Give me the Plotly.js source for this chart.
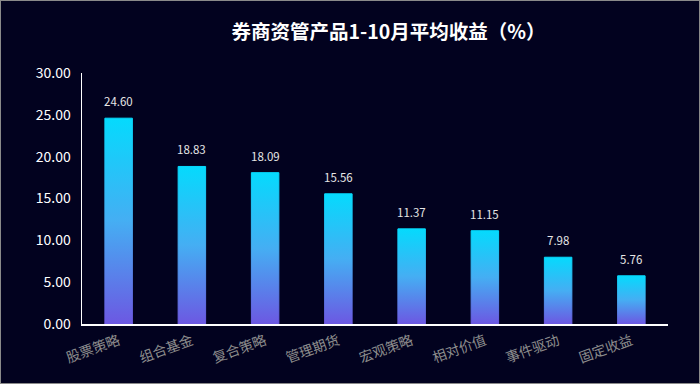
<!DOCTYPE html>
<html>
<head>
<meta charset="utf-8">
<script src="https://cdn.plot.ly/plotly-3.0.1.min.js"></script>
<style>
  html,body{margin:0;padding:0;background:#02021f;}
  #wrap{position:relative;width:700px;height:384px;}
  #chart{width:700px;height:384px;}
  #frame{position:absolute;left:0;top:0;width:698px;height:382px;border:1px solid #8a8a8a;pointer-events:none;}
</style>
</head>
<body>
<div id="wrap"><div id="chart"></div><div id="frame"></div></div>
<script>
const categories = ["股票策略","组合基金","复合策略","管理期货","宏观策略","相对价值","事件驱动","固定收益"];
const values = [24.60, 18.83, 18.09, 15.56, 11.37, 11.15, 7.98, 5.76];
const titleText = "券商资管产品1-10月平均收益（%）";

const FONT = '"Noto Sans CJK SC", "Noto Sans", sans-serif';

const trace = {
  type: 'bar',
  x: categories,
  y: values,
  width: 0.375,
  marker: {color: '#3fb0f2', line: {width: 0}},
  hoverinfo: 'none'
};

const annotations = categories.map((c, i) => ({
  x: c, y: values[i], xref: 'x', yref: 'y',
  text: values[i].toFixed(2),
  showarrow: false, yanchor: 'bottom', yshift: 7,
  font: {family: FONT, size: 11.5, color: '#e6e6e6'}
}));

const layout = {
  width: 700, height: 384,
  paper_bgcolor: '#02021f', plot_bgcolor: '#02021f',
  margin: {l: 82, r: 32, t: 73, b: 60},
  title: {text: '<b>' + titleText + '</b>', x: 0.555, xanchor: 'center', y: 0.915, yanchor: 'middle',
          font: {family: FONT, size: 19.5, color: '#ffffff'}},
  xaxis: {
    showgrid: false, zeroline: false, showline: true, linecolor: '#ffffff', linewidth: 1.5,
    tickangle: -20, ticks: 'outside', ticklen: 2, tickcolor: 'rgba(0,0,0,0)',
    tickfont: {family: FONT, size: 14, color: '#8c8c8c'},
    fixedrange: true
  },
  yaxis: {
    range: [0, 30], dtick: 5, tickformat: '.2f',
    showgrid: false, zeroline: false, showline: true, linecolor: '#ffffff', linewidth: 1.5,
    ticks: 'outside', ticklen: 7, tickcolor: 'rgba(0,0,0,0)',
    tickfont: {family: FONT, size: 14, color: '#ffffff'},
    fixedrange: true
  },
  annotations: annotations,
  showlegend: false,
  bargap: 0.6
};

Plotly.newPlot('chart', [trace], layout, {displayModeBar: false, staticPlot: true}).then(() => {
  const svg = document.querySelector('#chart .main-svg');
  const ns = 'http://www.w3.org/2000/svg';
  let defs = svg.querySelector('defs');
  if (!defs) { defs = document.createElementNS(ns, 'defs'); svg.insertBefore(defs, svg.firstChild); }
  const g = document.createElementNS(ns, 'linearGradient');
  g.setAttribute('id', 'barGrad');
  g.setAttribute('x1', '0'); g.setAttribute('y1', '0'); g.setAttribute('x2', '0'); g.setAttribute('y2', '1');
  [['0', '#05dafd'], ['0.5', '#45aef3'], ['1', '#6c58e2']].forEach(([o, c]) => {
    const s = document.createElementNS(ns, 'stop');
    s.setAttribute('offset', o); s.setAttribute('stop-color', c);
    g.appendChild(s);
  });
  defs.appendChild(g);
  document.querySelectorAll('#chart .bars .point path').forEach(p => {
    p.style.fill = 'url(#barGrad)';
    p.style.stroke = 'url(#barGrad)';
    p.style.strokeWidth = '1px';
  });
});
</script>
</body>
</html>
